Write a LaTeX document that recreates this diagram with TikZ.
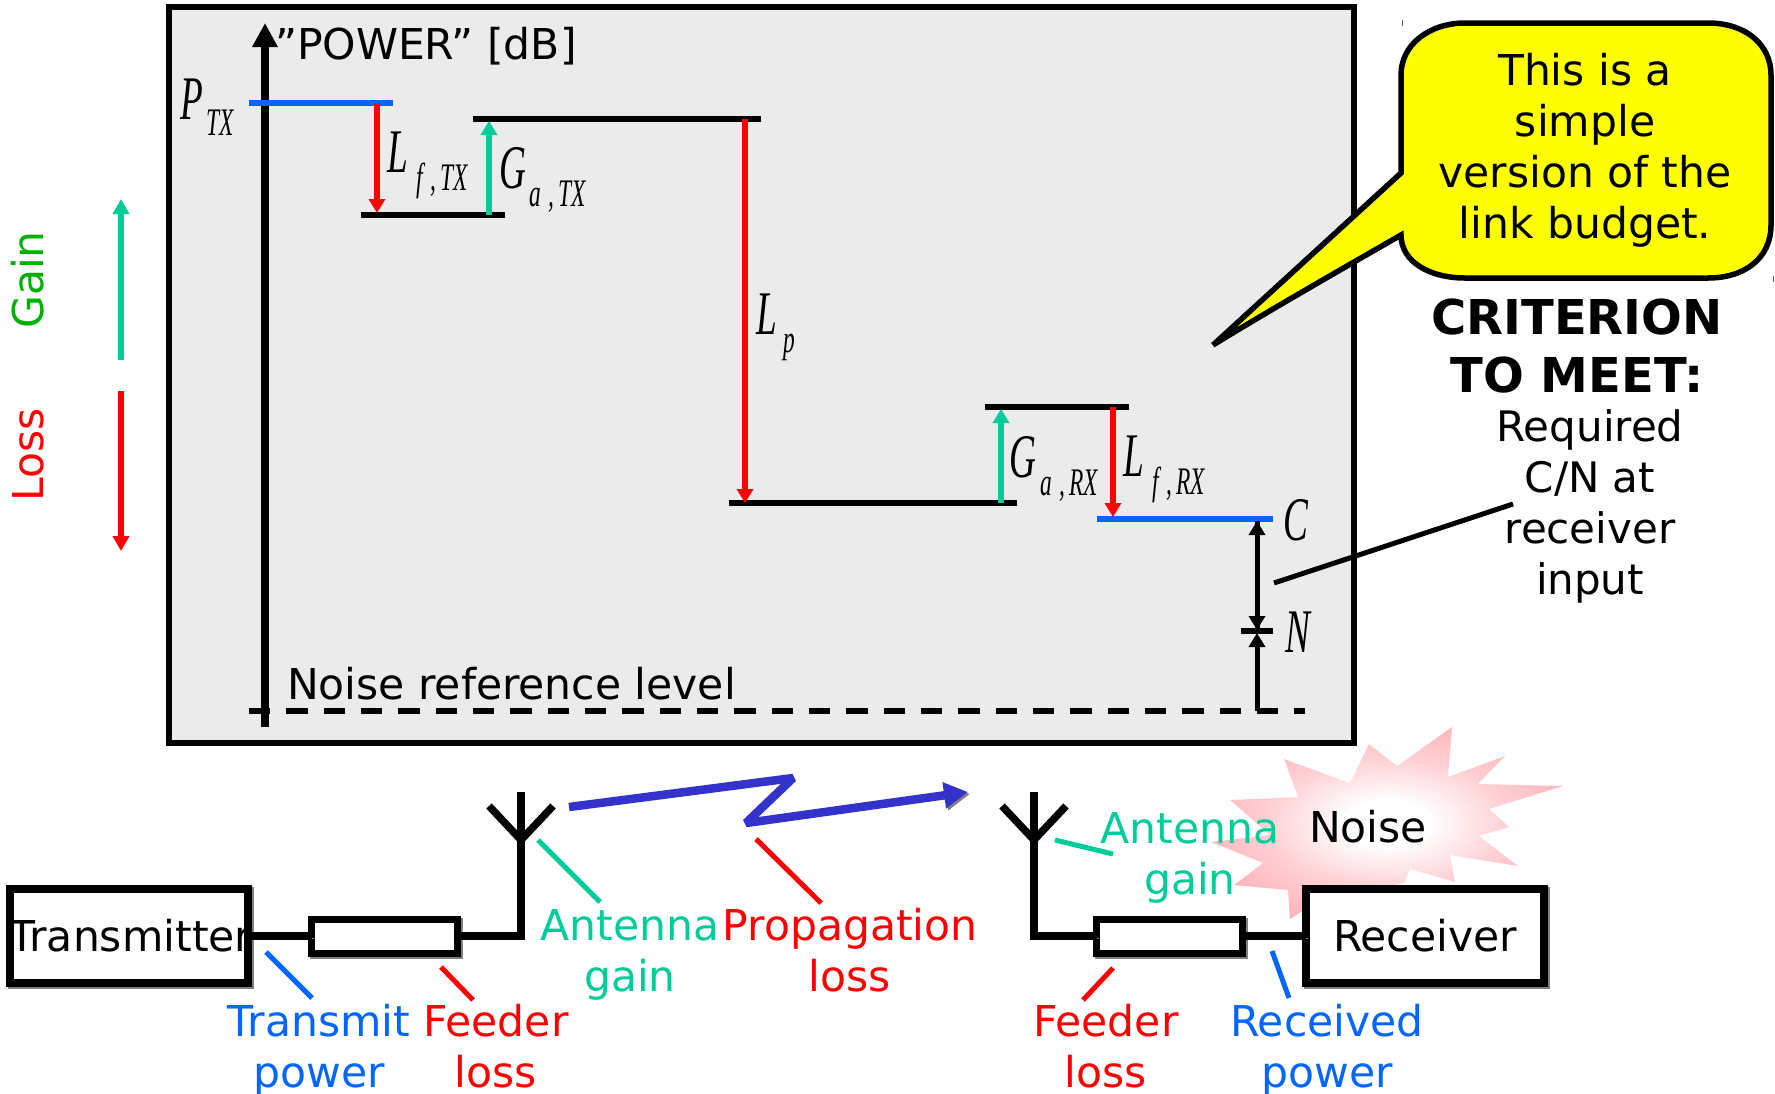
\documentclass[tikz,border=0pt]{standalone}
\usepackage{fontspec}
\usetikzlibrary{arrows.meta}
\setmainfont{DejaVu Sans}
\newfontfamily\mfont[FakeStretch=0.6]{Liberation Serif}
\definecolor{cgreen}{HTML}{00CC99}
\definecolor{cred}{HTML}{FF0000}
\definecolor{cblue}{HTML}{0066FF}
\definecolor{cgain}{HTML}{00B000}
\definecolor{czig}{HTML}{3333CC}
\definecolor{cpanel}{HTML}{EBEBEB}
\definecolor{cyel}{HTML}{FFFF00}
\definecolor{npinka}{HTML}{FFD0D4}
\definecolor{npink}{HTML}{FFAEB5}
\definecolor{npinkb}{HTML}{FF949C}
\pgfdeclareradialshading{noiseshade}{\pgfpoint{0bp}{0bp}}{color(0bp)=(white); color(6bp)=(white); color(17bp)=(npinka); color(30bp)=(npink); color(50bp)=(npinkb)}
\newcommand\mbig[1]{{\fontsize{62}{62}\selectfont\mfont\itshape #1}}
\newcommand\msub[1]{\raisebox{-18pt}{\fontsize{39}{39}\selectfont\mfont\itshape #1}}
\newcommand\cm{\hspace{8pt},\hspace{4pt}}
\tikzset{
  x=1pt,y=-1pt,
  sh/.style={preaction={draw=black!50,transform canvas={shift={(2pt,-2pt)}}}},
  lab/.style={font=\fontsize{42.5}{51}\selectfont,align=center,inner sep=0pt,outer sep=0pt,anchor=base},
  mlab/.style={inner sep=0pt,outer sep=0pt,anchor=base west},
  level/.style={line width=6pt,black},
  levelb/.style={line width=6pt,cblue},
  arr/.style={line width=6.5pt,-{Triangle[width=16pt,length=14pt]}},
  arrk/.style={line width=5pt,-{Triangle[width=16pt,length=14pt]}},
  leader/.style={line width=5pt},
  ebox/.style={draw=black,fill=white,line width=8pt,inner sep=0pt,outer sep=0pt,sh,font=\fontsize{42.5}{51}\selectfont},
  fbox/.style={ebox,line width=7pt},
  wire/.style={line width=7.5pt,sh,line join=miter},
}
\begin{document}
\begin{tikzpicture}
\useasboundingbox (0,0) rectangle (1775,1093);
% panel
\coordinate (pa) at (169,7); \coordinate (pb) at (1354,743);
\draw[line width=6pt,fill=cpanel,sh] (pa) rectangle (pb);
% axis
\coordinate (axb) at (265,727); \coordinate (axt) at (265,23);
\draw[line width=8.5pt,-{Triangle[width=24pt,length=24pt]}] (axb) -- (axt);
% levels
\coordinate (l1a) at (249,103); \coordinate (l1b) at (393,103);
\coordinate (l2a) at (361,215); \coordinate (l2b) at (505,215);
\coordinate (l3a) at (473,119); \coordinate (l3b) at (761,119);
\coordinate (l4a) at (729,503); \coordinate (l4b) at (1017,503);
\coordinate (l5a) at (985,407); \coordinate (l5b) at (1129,407);
\coordinate (l6a) at (1097,519); \coordinate (l6b) at (1273,519);
\coordinate (l7a) at (1241,631); \coordinate (l7b) at (1273,631);
\coordinate (l8a) at (249,711); \coordinate (l8b) at (1305,711);
\draw[levelb] (l1a) -- (l1b);
\draw[level] (l2a) -- (l2b);
\draw[level] (l3a) -- (l3b);
\draw[level] (l4a) -- (l4b);
\draw[level] (l5a) -- (l5b);
\draw[levelb] (l6a) -- (l6b);
\draw[level] (l7a) -- (l7b);
\draw[line width=5.5pt,dash pattern=on 21.4pt off 15.93pt] (l8a) -- (l8b);
% level arrows
\coordinate (a1s) at (377,103); \coordinate (a1e) at (377,213);
\coordinate (a2s) at (489,215); \coordinate (a2e) at (489,121);
\coordinate (a3s) at (745,119); \coordinate (a3e) at (745,503);
\coordinate (a4s) at (1001,503); \coordinate (a4e) at (1001,409);
\coordinate (a5s) at (1113,407); \coordinate (a5e) at (1113,517);
\coordinate (a6s) at (1257,631); \coordinate (a6e) at (1257,521);
\coordinate (a7s) at (1257,711); \coordinate (a7e) at (1257,633);
\coordinate (a8s) at (1257,521); \coordinate (a8e) at (1257,630);
\draw[arr,cred] (a1s) -- (a1e);
\draw[arr,cgreen] (a2s) -- (a2e);
\draw[arr,cred] (a3s) -- (a3e);
\draw[arr,cgreen] (a4s) -- (a4e);
\draw[arr,cred] (a5s) -- (a5e);
\draw[arrk] (a6s) -- (a6e);
\draw[arrk] (a8s) -- (a8e);
\draw[arrk] (a7s) -- (a7e);
% panel texts
\node[lab,anchor=base west] (tpow) at (275,59) {”POWER” [dB]};
\node[lab,anchor=base west] (tnoise) at (287,699) {Noise reference level};
\node[mlab] (mP) at (180,119) {\mbig{P}};
\node[mlab] (mPs) at (206,135) {\fontsize{39}{39}\selectfont\mfont\itshape TX};
\node[mlab] (mL1) at (387,172) {\makebox[29pt][l]{\mbig{L}}\msub{f\cm TX}};
\node[mlab] (mG1) at (499,188) {\makebox[30pt][l]{\mbig{G}}\msub{a\cm TX}};
\node[mlab] (mLp) at (756,334) {\makebox[27pt][l]{\mbig{L}}\msub{p}};
\node[mlab] (mG2) at (1009,477) {\makebox[31pt][l]{\mbig{G}}\msub{a\cm RX}};
\node[mlab] (mL2) at (1123,476) {\makebox[29pt][l]{\mbig{L}}\msub{f\cm RX}};
\node[mlab] (mC) at (1283,540) {\mbig{C}};
\node[mlab] (mN) at (1285,652) {\mbig{N}};
% gain / loss
\coordinate (gs) at (121,360); \coordinate (ge) at (121,199);
\coordinate (ls) at (121,391); \coordinate (le) at (121,551);
\draw[line width=5.5pt,cgreen,-{Triangle[width=16pt,length=15pt]}] (gs) -- (ge);
\draw[line width=5.5pt,cred,-{Triangle[width=16pt,length=15pt]}] (ls) -- (le);
\node[lab,rotate=90,anchor=center,text=cgain] (tgain) at (28,280) {Gain};
\node[lab,rotate=90,anchor=center,text=cred] (tloss) at (28,455) {Loss};
% noise burst
\shade[shading=noiseshade]
 (1452,727)--(1448,777)--(1505,756)--(1478,784)--(1563,786)--(1489,809)--(1509,827)--(1479,836)--(1518,866)--(1450,855)--(1455,882)--(1410,869)--(1404,883)--(1320,900)--(1290,919)--(1288,890)--(1234,885)--(1263,863)--(1211,842)--(1270,835)--(1230,800)--(1298,797)--(1284,759)--(1350,783)--(1369,744)--(1397,766)--cycle;
\node[lab] (tn) at (1368,842) {Noise};
% bottom chain
\node[ebox,minimum width=238pt,minimum height=94pt] (tx) at (129,936) {\makebox[0pt]{\hspace{4pt}\raisebox{-2pt}{Transmitter}}};
\node[fbox,minimum width=146pt,minimum height=34pt] (fl) at (384.5,936) {};
\node[fbox,minimum width=146pt,minimum height=34pt] (fr) at (1169.5,936) {};
\node[ebox,minimum width=238pt,minimum height=94pt] (rx) at (1425,936) {\raisebox{-2pt}{Receiver}};
\coordinate (m1t) at (521,792); \coordinate (m1c) at (521,840); \coordinate (m1b) at (521,936);
\coordinate (m1l) at (489,806); \coordinate (m1r) at (553,806);
\coordinate (m2t) at (1034,792); \coordinate (m2c) at (1034,840); \coordinate (m2b) at (1034,936);
\coordinate (m2l) at (1002,806); \coordinate (m2r) at (1066,806);
\draw[wire] (tx.east) -- (fl.west);
\draw[wire] (fl.east) -- (m1b) -- (m1t);
\draw[wire] (m1l) -- (m1c) -- (m1r);
\draw[wire] (fr.west) -- (m2b) -- (m2t);
\draw[wire] (m2l) -- (m2c) -- (m2r);
\draw[wire] (fr.east) -- (rx.west);
% zigzag
\coordinate (z1) at (569,807); \coordinate (z2) at (793,778); \coordinate (z3) at (746,823); \coordinate (z4) at (968,792);
\draw[line width=8.5pt,czig,line join=bevel,-{Triangle[width=25pt,length=24pt]},sh] (z1) -- (z2) -- (z3) -- (z4);
% leaders
\coordinate (c1a) at (538,840); \coordinate (c1b) at (600,902);
\coordinate (c2a) at (756,839); \coordinate (c2b) at (821,903);
\coordinate (c3a) at (266,952); \coordinate (c3b) at (312,998);
\coordinate (c4a) at (441,967); \coordinate (c4b) at (473,1000);
\coordinate (c5a) at (1055,840); \coordinate (c5b) at (1113,854);
\coordinate (c6a) at (1113,968); \coordinate (c6b) at (1083,1000);
\coordinate (c7a) at (1272,951); \coordinate (c7b) at (1289,998);
\draw[leader,cgreen] (c1a) -- (c1b);
\draw[leader,cred] (c2a) -- (c2b);
\draw[leader,cblue] (c3a) -- (c3b);
\draw[leader,cred] (c4a) -- (c4b);
\draw[leader,cgreen] (c5a) -- (c5b);
\draw[leader,cred] (c6a) -- (c6b);
\draw[leader,cblue] (c7a) -- (c7b);
% bottom labels
\node[lab,text=cgreen] (t1) at (630,991) {Antenna\\gain};
\node[lab,text=cred] (t2) at (850,991) {Propagation\\loss};
\node[lab,text=cblue] (t3) at (319,1087) {Transmit\\power};
\node[lab,text=cred] (t4) at (496,1087) {Feeder\\loss};
\node[lab,text=cred] (t5) at (1106,1087) {Feeder\\loss};
\node[lab,text=cblue] (t6) at (1327,1087) {Received\\power};
\node[lab,text=cgreen] (t7) at (1190,894) {Antenna\\gain};
% bubble
\coordinate (btip) at (1213,345);
\draw[line width=5.5pt,fill=cyel,line join=miter]
  (btip) .. controls (1270,310) and (1340,270) .. (1401,235)
  .. controls (1401,262) and (1430,278) .. (1465,278) -- (1708,278)
  .. controls (1745,278) and (1771,258) .. (1771,225) -- (1771,75)
  .. controls (1771,44) and (1745,23) .. (1708,23) -- (1465,23)
  .. controls (1430,23) and (1401,44) .. (1401,75) -- (1401,173) -- cycle;
\coordinate (tk1a) at (1402.5,20); \coordinate (tk1b) at (1402.5,26);
\coordinate (tk2a) at (1773,276); \coordinate (tk2b) at (1773,282);
\draw[line width=1pt,black!60] (tk1a) -- (tk1b) (tk2a) -- (tk2b);
\node[lab] (tb) at (1585,238) {This is a\\simple\\version of the\\link budget.};
% criterion
\node[lab,font=\fontsize{48}{58}\selectfont\bfseries] (tc) at (1577,392) {CRITERION\\TO MEET:};
\node[lab,font=\fontsize{42}{51}\selectfont] (tr) at (1590,594) {Required\\C/N at\\receiver\\input};
\coordinate (ca) at (1274,583); \coordinate (cb) at (1513,504);
\draw[leader] (ca) -- (cb);
\end{tikzpicture}
\end{document}
